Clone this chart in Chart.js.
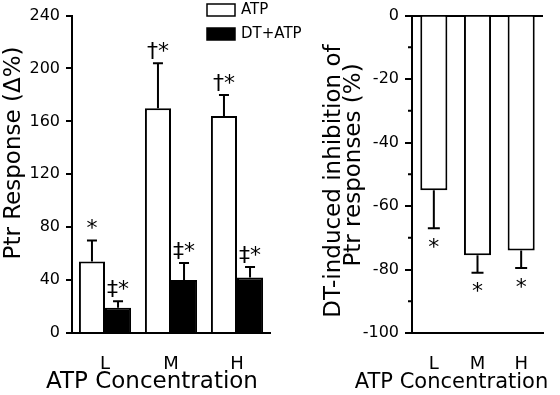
<!DOCTYPE html>
<html>
<head>
<meta charset="utf-8">
<script src="https://cdn.jsdelivr.net/npm/chart.js@4"></script>
<style>
body { margin: 0; background: #fff; width: 560px; height: 395px; position: relative; overflow: hidden; }
canvas { position: absolute; top: 0; }
#left { left: 0; }
#right { left: 290px; }
</style>
</head>
<body>
<canvas id="left" width="320" height="395"></canvas>
<canvas id="right" width="270" height="395"></canvas>
<script>
// valeurs
const niveaux = ['L', 'M', 'H']
const atpMoy = [54, 170, 164]
const atpErr = [16, 34, 16]
const dtMoy = [19, 40, 42]
const dtErr = [5, 13, 8]
const atpMarques = ['*', '†*', '†*']
const dtMarques = ['‡*', '‡*', '‡*']
const inhibMoy = [-55, -75.5, -74]
const inhibErr = [12, 5.5, 5.5]
const inhibMarques = ['*', '*', '*']
const ticksGauche = [0, 40, 80, 120, 160, 200, 240]
const ticksDroite = [-100, -80, -60, -40, -20, 0]

const police = "'DejaVu Sans', sans-serif"
Chart.defaults.font.family = police
Chart.defaults.color = '#000'

// barres d'erreur + symboles au-dessus/en-dessous
const erreurs = {
    id: 'erreurs',
    afterDatasetsDraw(chart, args, opts) {
        const ctx = chart.ctx
        const y = chart.scales.y
        ctx.save()
        ctx.strokeStyle = '#000'
        ctx.fillStyle = '#000'
        ctx.lineWidth = 2
        opts.series.forEach((s, i) => {
            const meta = chart.getDatasetMeta(i)
            const moy = chart.data.datasets[i].data
            meta.data.forEach((bar, j) => {
                const fin = moy[j] + s.dir * s.err[j]
                const y0 = y.getPixelForValue(moy[j])
                const y1 = y.getPixelForValue(fin)
                ctx.beginPath()
                ctx.moveTo(bar.x, y0)
                ctx.lineTo(bar.x, y1)
                ctx.moveTo(bar.x - opts.cap, y1)
                ctx.lineTo(bar.x + opts.cap, y1)
                ctx.stroke()
                ctx.font = '22px ' + police
                ctx.textAlign = 'center'
                ctx.textBaseline = 'middle'
                ctx.fillText(s.marques[j], bar.x, y1 - s.dir * opts.gap + 3)
            })
        })
        ctx.restore()
    }
}

// titres des axes, légende, petites graduations
const decor = {
    id: 'decor',
    afterDraw(chart, args, opts) {
        const ctx = chart.ctx
        const a = chart.chartArea
        ctx.save()
        ctx.fillStyle = '#000'
        ctx.strokeStyle = '#000'
        ctx.textBaseline = 'alphabetic'
        ctx.textAlign = 'center'
        ctx.font = opts.xFont + 'px ' + police
        ctx.fillText('ATP Concentration', (a.left + a.right) / 2 + opts.xShift, 388)
        ctx.font = opts.yFont + 'px ' + police
        opts.yTitres.forEach((t) => {
            ctx.save()
            ctx.translate(t.x, t.y)
            ctx.rotate(-Math.PI / 2)
            ctx.fillText(t.text, 0, 0)
            ctx.restore()
        })
        if (opts.legende) {
            ctx.lineWidth = 1.5
            ctx.font = '15px ' + police
            ctx.textAlign = 'left'
            ctx.textBaseline = 'middle'
            opts.legende.forEach((l) => {
                ctx.fillStyle = l.fond
                ctx.fillRect(207, l.y - 6, 28, 12)
                ctx.strokeRect(207, l.y - 6, 28, 12)
                ctx.fillStyle = '#000'
                ctx.fillText(l.text, 241, l.y)
            })
        }
        if (opts.mineures) {
            const y = chart.scales.y
            ctx.lineWidth = 2
            ctx.beginPath()
            for (let k = 0; k < ticksDroite.length - 1; k++) {
                const v = (ticksDroite[k] + ticksDroite[k + 1]) / 2
                const py = y.getPixelForValue(v)
                ctx.moveTo(a.left, py)
                ctx.lineTo(a.left - 4, py)
            }
            ctx.stroke()
        }
        ctx.restore()
    }
}

const axeX = {
    grid: { display: false },
    border: { color: '#000', width: 2 },
    ticks: { font: { size: 18 }, padding: 13, color: '#000' },
    afterFit: (s) => { s.height = 62 }
}

new Chart(document.getElementById('left'), {
    type: 'bar',
    data: {
        labels: niveaux,
        datasets: [{
            label: 'ATP',
            data: atpMoy,
            backgroundColor: '#fff',
            borderColor: '#000',
            borderWidth: 2,
            categoryPercentage: 0.79,
            barPercentage: 1
        }, {
            label: 'DT+ATP',
            data: dtMoy,
            backgroundColor: '#000',
            borderColor: '#000',
            borderWidth: 2,
            categoryPercentage: 0.79,
            barPercentage: 1
        }]
    },
    options: {
        responsive: false,
        animation: false,
        layout: { padding: { top: 12, right: 50, left: 0, bottom: 0 } },
        plugins: {
            legend: { display: false },
            tooltip: { enabled: false },
            erreurs: {
                cap: 5, gap: 14,
                series: [
                    { err: atpErr, marques: atpMarques, dir: 1 },
                    { err: dtErr, marques: dtMarques, dir: 1 }
                ]
            },
            decor: {
                xFont: 23, xShift: -19, yFont: 23,
                yTitres: [{ text: 'Ptr Response (Δ%)', x: 20, y: 153 }],
                legende: [{ text: 'ATP', fond: '#fff', y: 10 }, { text: 'DT+ATP', fond: '#000', y: 34 }]
            }
        },
        scales: {
            x: axeX,
            y: {
                min: 0,
                max: 240,
                afterBuildTicks: (s) => { s.ticks = ticksGauche.map((v) => ({ value: v })) },
                grid: { drawOnChartArea: false, tickLength: 6, tickColor: '#000', lineWidth: 2 },
                border: { color: '#000', width: 2 },
                ticks: { font: { size: 16 }, padding: 6, color: '#000' },
                afterFit: (s) => { s.width = 72 }
            }
        }
    },
    plugins: [erreurs, decor]
})

new Chart(document.getElementById('right'), {
    type: 'bar',
    data: {
        labels: niveaux,
        datasets: [{
            label: 'Inhibition',
            data: inhibMoy,
            backgroundColor: '#fff',
            borderColor: '#000',
            borderWidth: 2,
            categoryPercentage: 0.62,
            barPercentage: 1
        }]
    },
    options: {
        responsive: false,
        animation: false,
        layout: { padding: { top: 12, right: 17, left: 0, bottom: 0 } },
        plugins: {
            legend: { display: false },
            tooltip: { enabled: false },
            erreurs: {
                cap: 6, gap: 17,
                series: [{ err: inhibErr, marques: inhibMarques, dir: -1 }]
            },
            decor: {
                xFont: 21, xShift: -26, yFont: 23, mineures: true,
                yTitres: [
                    { text: 'DT-induced inhibition of', x: 50, y: 181 },
                    { text: 'Ptr responses (%)', x: 70, y: 165 }
                ]
            }
        },
        scales: {
            x: axeX,
            y: {
                min: -100,
                max: 0,
                afterBuildTicks: (s) => { s.ticks = ticksDroite.map((v) => ({ value: v })) },
                grid: {
                    color: (c) => (c.tick && c.tick.value === 0 ? '#000' : 'rgba(0,0,0,0)'),
                    tickLength: 7, tickColor: '#000', lineWidth: 2
                },
                border: { color: '#000', width: 2 },
                ticks: { font: { size: 16 }, padding: 6, color: '#000' },
                afterFit: (s) => { s.width = 122 }
            }
        }
    },
    plugins: [erreurs, decor]
})
</script>
</body>
</html>
